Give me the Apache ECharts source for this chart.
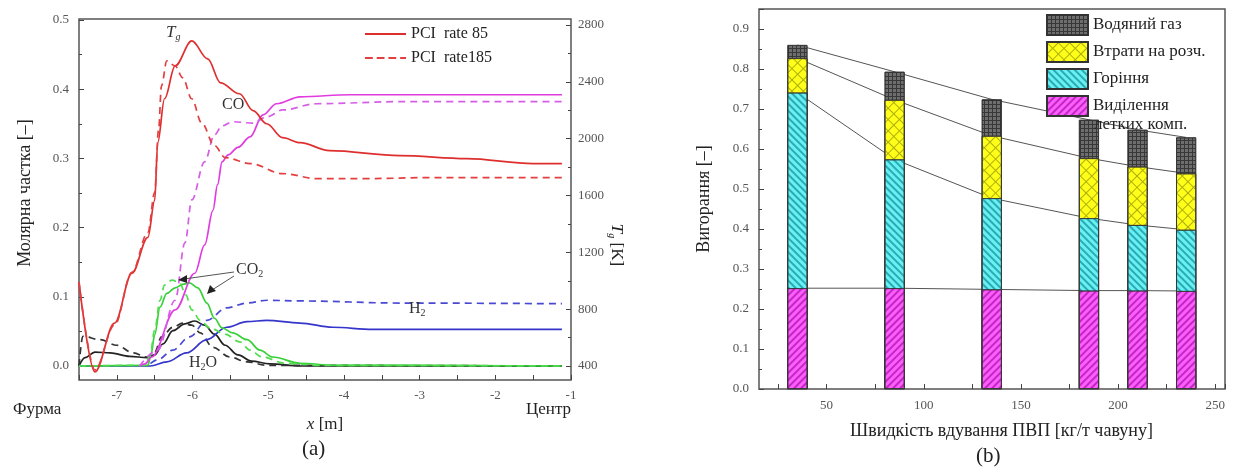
<!DOCTYPE html>
<html>
<head>
<meta charset="UTF-8">
<script src="https://cdn.jsdelivr.net/npm/echarts@6/dist/echarts.min.js"></script>
<style>html,body{margin:0;background:#fff}#chart{width:1240px;height:470px}</style>
</head>
<body>
<div id="chart"></div>
<script>
// ---------- panel (a): profiles along the raceway ----------
// gas temperature T_g [K]
var tgX85  = [-7.50,-7.29,-7.03,-6.80,-6.59,-6.50,-6.46,-6.37,-6.23,-6.01,-5.80,-5.63,-5.38,-5.20,-5.02,-4.81,-4.58,-4.19,-3.26,-2.38,-1.50,-1.12];
var tg85   = [990,358,702,1053,1305,1565,1972,2281,2512,2688,2562,2393,2316,2197,2105,2007,1972,1916,1881,1860,1825,1825];
var tgX185 = [-7.50,-7.29,-7.03,-6.80,-6.59,-6.50,-6.45,-6.41,-6.34,-6.23,-6.13,-6.01,-5.88,-5.71,-5.57,-5.24,-4.81,-4.36,-3.70,-2.83,-1.12];
var tg185  = [990,372,688,1060,1340,1621,2056,2372,2548,2512,2428,2281,2112,1951,1867,1825,1754,1719,1719,1726,1726];
// CO
var coX85  = [-6.70,-6.63,-6.54,-6.23,-5.97,-5.84,-5.73,-5.67,-5.61,-5.53,-5.40,-5.24,-5.07,-4.89,-4.58,-3.92,-1.12];
var co85   = [0,0.003,0.013,0.081,0.134,0.175,0.225,0.262,0.295,0.305,0.316,0.331,0.363,0.379,0.389,0.392,0.392];
var coX185 = [-6.70,-6.46,-6.23,-6.10,-6.01,-5.84,-5.71,-5.61,-5.47,-5.20,-5.02,-4.81,-4.36,-3.26,-1.12];
var co185  = [0,0.023,0.095,0.178,0.240,0.295,0.334,0.347,0.353,0.351,0.360,0.370,0.379,0.382,0.382];
// CO2
var co2X85  = [-7.50,-6.59,-6.55,-6.50,-6.43,-6.34,-6.23,-6.13,-6.04,-5.93,-5.81,-5.71,-5.61,-5.47,-5.28,-5.11,-4.94,-4.58,-4.12,-1.12];
var co285   = [0,0.001,0.016,0.045,0.085,0.105,0.113,0.118,0.120,0.113,0.091,0.069,0.055,0.048,0.038,0.023,0.013,0.004,0.001,0];
var co2X185 = [-7.50,-6.63,-6.56,-6.50,-6.43,-6.37,-6.27,-6.17,-6.09,-6.01,-5.90,-5.77,-5.57,-5.38,-5.24,-5.08,-4.78,-4.32,-1.12];
var co2185  = [0,0.001,0.016,0.052,0.095,0.117,0.124,0.120,0.103,0.081,0.066,0.055,0.046,0.035,0.023,0.013,0.004,0.001,0];
// H2O
var h2oX85  = [-7.50,-7.42,-7.29,-7.09,-6.83,-6.60,-6.50,-6.39,-6.26,-6.10,-5.97,-5.84,-5.71,-5.57,-5.40,-5.22,-4.98,-4.58,-1.12];
var h2o85   = [0,0.012,0.020,0.019,0.014,0.012,0.016,0.032,0.051,0.061,0.065,0.059,0.046,0.030,0.016,0.007,0.003,0,0];
var h2oX185 = [-7.50,-7.45,-7.22,-7.00,-6.79,-6.60,-6.50,-6.41,-6.26,-6.13,-6.01,-5.90,-5.73,-5.51,-5.28,-5.02,-1.12];
var h2o185  = [0,0.043,0.038,0.030,0.019,0.013,0.020,0.042,0.056,0.062,0.059,0.048,0.027,0.013,0.006,0.001,0];
// H2
var h2X85  = [-7.50,-6.56,-6.34,-6.08,-5.81,-5.55,-5.28,-5.02,-4.58,-4.15,-3.62,-1.12];
var h285   = [0,0,0.006,0.019,0.038,0.056,0.064,0.066,0.062,0.056,0.053,0.053];
var h2X185 = [-7.50,-6.63,-6.46,-6.26,-6.04,-5.81,-5.55,-5.28,-5.01,-4.58,-3.26,-1.12];
var h2185  = [0,0,0.009,0.023,0.042,0.066,0.084,0.091,0.095,0.094,0.091,0.090];

// ---------- panel (b): burnout vs PCI rate ----------
var pciRate    = [35, 85, 135, 185, 210, 235];
var volatiles  = [0.252, 0.252, 0.249, 0.246, 0.246, 0.245];
var combustion = [0.489, 0.322, 0.228, 0.181, 0.164, 0.153];
var solution   = [0.086, 0.149, 0.156, 0.150, 0.146, 0.141];
var waterGas   = [0.033, 0.070, 0.091, 0.096, 0.092, 0.090];

var SERIF = 'Liberation Serif';
var chart = echarts.init(document.getElementById('chart'));

function pts(xs, ys) { return xs.map(function (x, i) { return [x, ys[i]]; }); }
// running total of the first `level` parts, for stacked look
function cum(level) {
  var parts = [volatiles, combustion, solution, waterGas].slice(0, level);
  return pciRate.map(function (x, i) {
    var s = 0; parts.forEach(function (p) { s += p[i]; });
    return [x, +s.toFixed(4)];
  });
}
function curve(name, xs, ys, color, dashed, grid, yIdx) {
  return {
    name: name, type: 'line', xAxisIndex: grid, yAxisIndex: yIdx,
    data: pts(xs, ys), showSymbol: false, symbol: 'none',
    smooth: 0.35, smoothMonotone: 'x', clip: false, silent: true,
    lineStyle: { color: color, width: 1.7, type: dashed ? [7, 5] : 'solid' },
    itemStyle: { color: color }
  };
}
// bars overlap (barGap -100%): each one runs from 0 to its running total,
// the lower parts are drawn on top so the column reads as a stack
function barSeries(name, level, color, decal) {
  return {
    name: name, type: 'bar', xAxisIndex: 4, yAxisIndex: 4,
    barWidth: 20, barGap: '-100%', z: 3 + (4 - level), silent: true,
    data: cum(level),
    itemStyle: { color: color, borderColor: '#333', borderWidth: 0.8, decal: decal }
  };
}
function linkLine(level) {
  return {
    type: 'line', xAxisIndex: 4, yAxisIndex: 4, data: cum(level),
    symbol: 'none', silent: true, z: 1,
    lineStyle: { color: '#555', width: 1 }
  };
}

var tickLabel = { fontFamily: SERIF, fontSize: 13, color: '#555' };
var axisNameStyle = { fontFamily: SERIF, fontSize: 18, color: '#222' };
var inTick = { show: true, inside: true, length: 5, lineStyle: { color: '#444' } };
var inMinor = { show: true, splitNumber: 2, length: 3, lineStyle: { color: '#444' } };
var noLine = { show: false };

var stripeA = { symbol: 'rect', symbolSize: 1, dashArrayX: [1, 0], dashArrayY: [1.5, 3], rotation: -Math.PI / 4, color: 'rgba(140,0,140,0.55)' };
var stripeB = { symbol: 'rect', symbolSize: 1, dashArrayX: [1, 0], dashArrayY: [1.5, 3], rotation: Math.PI / 4, color: 'rgba(0,110,130,0.55)' };
var crossY  = { symbol: 'rect', symbolSize: 1, dashArrayX: [[8, 0], [1, 7]], dashArrayY: [1, 0, 7, 0], rotation: Math.PI / 4, color: 'rgba(120,120,0,0.6)' };
var gridG   = { symbol: 'rect', symbolSize: 1, dashArrayX: [[4, 0], [1, 3]], dashArrayY: [1, 0, 3, 0], rotation: 0, color: 'rgba(20,20,20,0.6)' };

var solidIcon = 'path://M0,0H42V2H0Z';
var dashIcon = 'path://M0,0H8V2H0Z M12,0H20V2H12Z M24,0H32V2H24Z M36,0H42V2H36Z';

var option = {
  animation: false,
  backgroundColor: '#fff',
  textStyle: { fontFamily: SERIF },
  grid: [
    { left: 79, top: 19, width: 492, height: 361, show: true, borderColor: '#555', borderWidth: 1.5, backgroundColor: 'transparent' },
    { left: 79, top: 20, width: 492, height: 346 },
    { left: 79, top: 25, width: 492, height: 341 },
    { left: 759, top: 9, width: 466, height: 380, show: true, borderColor: '#555', borderWidth: 1.5, backgroundColor: 'transparent' },
    { left: 778, top: 9, width: 447, height: 380 }
  ],
  xAxis: [
    { gridIndex: 0, type: 'value', min: -7.5, max: -1, interval: 0.5,
      axisLine: noLine, splitLine: { show: false }, axisTick: inTick,
      axisLabel: Object.assign({ margin: 9, formatter: function (v) { return v % 1 === 0 ? String(v) : ''; } }, tickLabel),
      name: '{i|x} [m]', nameLocation: 'middle', nameGap: 36,
      nameTextStyle: { fontFamily: SERIF, fontSize: 17, color: '#222', rich: { i: { fontFamily: SERIF, fontStyle: 'italic', fontSize: 17, color: '#222' } } } },
    { gridIndex: 1, type: 'value', min: -7.5, max: -1, show: false },
    { gridIndex: 2, type: 'value', min: -7.5, max: -1, show: false },
    { gridIndex: 3, type: 'value', min: 0, max: 1, show: false },
    { gridIndex: 4, type: 'value', min: 25, max: 255, interval: 25,
      axisLine: noLine, splitLine: { show: false }, axisTick: inTick,
      axisLabel: Object.assign({ margin: 10, formatter: function (v) { return v % 50 === 0 ? String(v) : ''; } }, tickLabel),
      name: 'Швидкість вдування ПВП [кг/т чавуну]', nameLocation: 'middle', nameGap: 33,
      nameTextStyle: axisNameStyle }
  ],
  yAxis: [
    { gridIndex: 0, type: 'value', min: 0, max: 1, show: false },
    { gridIndex: 1, type: 'value', min: 0, max: 0.5, interval: 0.1,
      axisLine: noLine, splitLine: { show: false }, axisTick: inTick, minorTick: inMinor,
      axisLabel: Object.assign({ margin: 10, formatter: function (v) { return v.toFixed(1); } }, tickLabel),
      name: 'Молярна частка [–]', nameLocation: 'middle', nameGap: 45, nameTextStyle: axisNameStyle },
    { gridIndex: 2, type: 'value', position: 'right', min: 400, max: 2800, interval: 400,
      axisLine: noLine, splitLine: { show: false }, axisTick: inTick, minorTick: inMinor,
      axisLabel: Object.assign({ margin: 7, formatter: function (v) { return String(v); } }, tickLabel) },
    { gridIndex: 3, type: 'value', min: 0, max: 0.95, interval: 0.1,
      axisLine: noLine, splitLine: { show: false }, axisTick: inTick, minorTick: inMinor,
      axisLabel: Object.assign({ margin: 10, showMaxLabel: false, formatter: function (v) {
        return Math.abs(v * 10 - Math.round(v * 10)) < 1e-6 ? v.toFixed(1) : ''; } }, tickLabel),
      name: 'Вигорання [–]', nameLocation: 'middle', nameGap: 46, nameTextStyle: axisNameStyle },
    { gridIndex: 4, type: 'value', min: 0, max: 0.95, show: false }
  ],
  legend: [
    { left: 365, top: 26, orient: 'vertical', itemWidth: 41, itemHeight: 2, itemGap: 8,
      selectedMode: false, padding: 0,
      data: [{ name: 'PCI  rate 85', icon: solidIcon }, { name: 'PCI  rate185', icon: dashIcon }],
      textStyle: { fontFamily: SERIF, fontSize: 16, color: '#222' } },
    { left: 1046, top: 14, orient: 'vertical', itemWidth: 41, itemHeight: 20, itemGap: 5,
      selectedMode: false, padding: 0, icon: 'rect',
      data: ['Водяний газ', 'Втрати на розч.', 'Горіння', 'Виділення летких комп.'],
      formatter: function (n) { return n === 'Виділення летких комп.' ? 'Виділення' : n; },
      textStyle: { fontFamily: SERIF, fontSize: 17, color: '#222' } }
  ],
  series: [
    curve('H2O 85', h2oX85, h2o85, '#222', false, 1, 1),
    curve('H2O 185', h2oX185, h2o185, '#333', true, 1, 1),
    curve('H2 85', h2X85, h285, '#3535cc', false, 1, 1),
    curve('H2 185', h2X185, h2185, '#4848d4', true, 1, 1),
    curve('CO2 85', co2X85, co285, '#38d038', false, 1, 1),
    curve('CO2 185', co2X185, co2185, '#50dd50', true, 1, 1),
    curve('CO 85', coX85, co85, '#e03ce0', false, 1, 1),
    curve('CO 185', coX185, co185, '#d65ee6', true, 1, 1),
    curve('PCI  rate 85', tgX85, tg85, '#de2f2f', false, 2, 2),
    curve('PCI  rate185', tgX185, tg185, '#e24040', true, 2, 2),
    linkLine(1), linkLine(2), linkLine(3), linkLine(4),
    barSeries('Водяний газ', 4, '#6e6e6e', gridG),
    barSeries('Втрати на розч.', 3, '#ffff1a', crossY),
    barSeries('Горіння', 2, '#66f2f2', stripeB),
    barSeries('Виділення летких комп.', 1, '#ff5cff', stripeA)
  ],
  graphic: [
    { type: 'text', z: 100, left: 166, top: 24, style: { text: '{i|T}{s|g}', rich: {
        i: { fontFamily: SERIF, fontStyle: 'italic', fontSize: 17, fill: '#333' },
        s: { fontFamily: SERIF, fontStyle: 'italic', fontSize: 10, fill: '#333', padding: [9, 0, 0, 0] } } } },
    { type: 'text', z: 100, left: 222, top: 97, style: { text: 'CO', fontFamily: SERIF, fontSize: 16, fill: '#333' } },
    { type: 'text', z: 100, left: 236, top: 262, style: { text: 'CO{s|2}', fontFamily: SERIF, fontSize: 16, fill: '#333',
        rich: { s: { fontFamily: SERIF, fontSize: 10, fill: '#333', padding: [8, 0, 0, 0] } } } },
    { type: 'polyline', z: 100, shape: { points: [[234, 272], [184, 279]] }, style: { stroke: '#555', lineWidth: 1 } },
    { type: 'polygon', z: 100, shape: { points: [[178, 280], [187, 275], [187, 283]] }, style: { fill: '#222' } },
    { type: 'polyline', z: 100, shape: { points: [[234, 276], [212, 290]] }, style: { stroke: '#555', lineWidth: 1 } },
    { type: 'polygon', z: 100, shape: { points: [[207, 294], [210, 285], [216, 291]] }, style: { fill: '#222' } },
    { type: 'text', z: 100, left: 189, top: 355, style: { text: 'H{s|2}O', fontFamily: SERIF, fontSize: 16, fill: '#333',
        rich: { s: { fontFamily: SERIF, fontSize: 10, fill: '#333', padding: [8, 0, 0, 0] } } } },
    { type: 'text', z: 100, left: 409, top: 301, style: { text: 'H{s|2}', fontFamily: SERIF, fontSize: 16, fill: '#333',
        rich: { s: { fontFamily: SERIF, fontSize: 10, fill: '#333', padding: [8, 0, 0, 0] } } } },
    { type: 'text', z: 100, left: 13, top: 401, style: { text: 'Фурма', fontFamily: SERIF, fontSize: 17, fill: '#222' } },
    { type: 'text', z: 100, left: 526, top: 401, style: { text: 'Центр', fontFamily: SERIF, fontSize: 17, fill: '#222' } },
    { type: 'text', z: 100, left: 302, top: 439, style: { text: '(a)', fontFamily: SERIF, fontSize: 21, fill: '#222' } },
    { type: 'text', z: 100, left: 976, top: 446, style: { text: '(b)', fontFamily: SERIF, fontSize: 21, fill: '#222' } },
    { type: 'text', z: 100, x: 616, y: 245, rotation: -Math.PI / 2, style: { text: '{i|T}{s|g} [K]', fontFamily: SERIF, fontSize: 17, fill: '#222',
        align: 'center', verticalAlign: 'middle',
        rich: { i: { fontFamily: SERIF, fontStyle: 'italic', fontSize: 17, fill: '#222' },
                s: { fontFamily: SERIF, fontStyle: 'italic', fontSize: 10, fill: '#222', padding: [8, 0, 0, 0] } } } },
    { type: 'text', z: 100, left: 1094, top: 116, style: { text: 'летких комп.', fontFamily: SERIF, fontSize: 17, fill: '#222' } }
  ]
};
chart.setOption(option);
</script>
</body>
</html>
